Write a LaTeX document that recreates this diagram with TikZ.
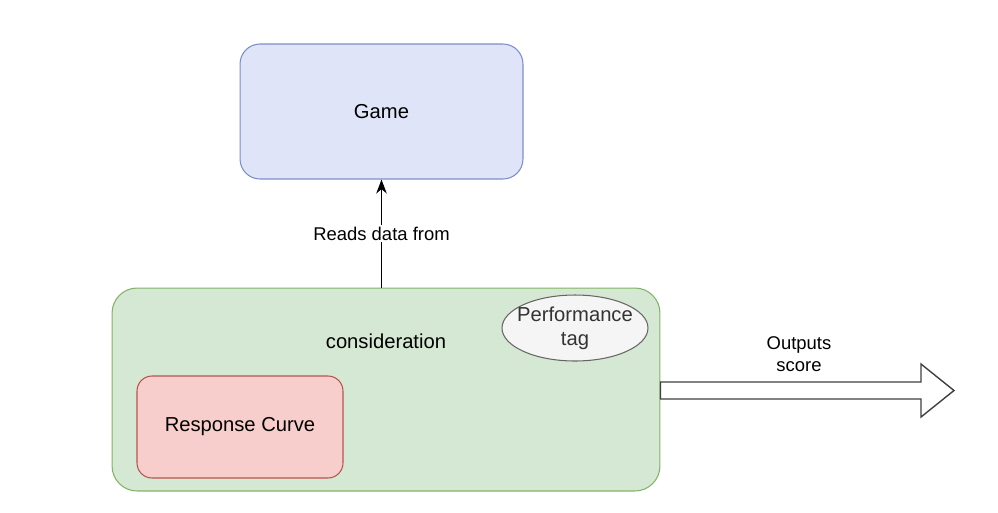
\documentclass[tikz,border=0pt]{standalone}
\usepackage{fontspec}
\setmainfont{Liberation Sans}
\usetikzlibrary{arrows.meta,shapes.geometric}
\definecolor{gameFill}{RGB}{223,228,249}
\definecolor{gameLine}{RGB}{124,142,200}
\definecolor{consFill}{HTML}{D5E8D4}
\definecolor{consLine}{HTML}{82B366}
\definecolor{curveFill}{HTML}{F8CECC}
\definecolor{curveLine}{HTML}{B85450}
\definecolor{tagFill}{HTML}{F5F5F5}
\definecolor{tagLine}{HTML}{666666}
\definecolor{tagText}{HTML}{333333}

\begin{document}
\begin{tikzpicture}[x=0.02cm,y=-0.02cm,line width=0.6pt,
  box/.style={draw,rectangle,inner sep=0pt,font=\fontsize{11.5}{13.5}\selectfont},
  lbl/.style={font=\fontsize{10.5}{12.5}\selectfont,align=center,inner sep=1pt}]
  \useasboundingbox (0,0) rectangle (998,512);
  % boxes
  \node[box,fill=gameFill,draw=gameLine,rounded corners=0.4cm,
    minimum width=5.66cm,minimum height=2.7cm](game) at (381.5,111.5){Game};
  \node[box,fill=consFill,draw=consLine,rounded corners=0.5cm,
    minimum width=10.96cm,minimum height=4.06cm](cons) at (386,389.5){};
  \node[box,draw=none](consText) at (386,341){consideration};
  \node[box,fill=curveFill,draw=curveLine,rounded corners=0.3cm,
    minimum width=4.12cm,minimum height=2.04cm](curve) at (240,427){Response Curve};
  \node[ellipse,draw=tagLine,fill=tagFill,inner sep=0pt,
    minimum width=2.92cm,minimum height=1.32cm](perf) at (575,328){};
  \node[box,draw=none,align=center,text=tagText](perfText) at (perf){Performance\\tag};
  % connectors
  \draw[-{Stealth[length=8pt,width=6pt]}](cons.north-|game.south)--(game.south)
    node[midway,lbl,fill=white]{Reads data from};
  \coordinate(tip) at (954,390.5);
  \draw[fill=white,draw=black!75,line width=0.8pt](cons.east|-0,382)--(921,382)--(921,364)--(tip)
    --(921,417)--(921,399)--(cons.east|-0,399)--cycle;
  \node[lbl](out) at (799,354){Outputs\\score};
\end{tikzpicture}
\end{document}
